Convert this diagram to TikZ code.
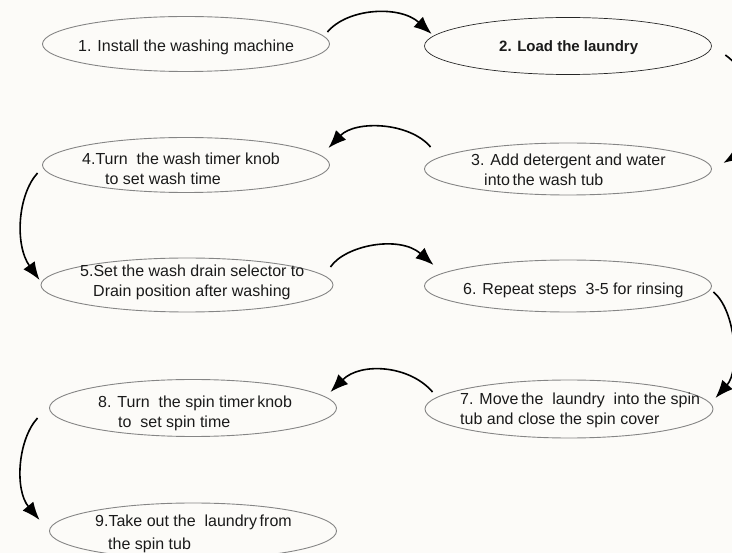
\documentclass[tikz,border=0pt]{standalone}
\usepackage{fontspec}
\setmainfont{Liberation Sans}
\usetikzlibrary{shapes.geometric,arrows.meta}
\definecolor{bgcol}{HTML}{FCFBF8}
\definecolor{edgecol}{HTML}{858585}
\definecolor{inkcol}{HTML}{1A1A1A}
\begin{document}
\begin{tikzpicture}[x=1pt,y=-1pt,
  stepell/.style={ellipse, draw=edgecol, line width=0.9pt, minimum width=287pt, minimum height=55pt, inner sep=0pt},
  steptxt/.style={anchor=base west, inner sep=0pt, align=left, text=inkcol, font=\fontsize{16}{20}\selectfont},
  flow/.style={-{Latex[length=18pt,width=14pt]}, line width=1.6pt, black}]
\useasboundingbox (0,0) rectangle (732,553);
\clip (0,0) rectangle (732,553);
\fill[bgcol] (0,0) rectangle (732,553);
% ellipses
\node[stepell] (e1) at (186,44) {};
\node[stepell, draw=black!85, line width=0.7pt, minimum height=57pt] (e2) at (568,46) {};
\node[stepell, minimum height=52pt] (e3) at (568,169) {};
\node[stepell] (e4) at (186,165) {};
\node[stepell, minimum width=292pt, minimum height=54pt] (e5) at (187,285) {};
\node[stepell, minimum height=52pt] (e6) at (568,286) {};
\node[stepell, minimum width=288pt, minimum height=58pt] (e7) at (569,409) {};
\node[stepell, minimum height=57pt] (e8) at (193,408) {};
\node[stepell, minimum height=56pt] (e9) at (193,531) {};
% texts (base anchor = baseline of the last line)
\node[steptxt] (t1) at (78,52) {1. Install the washing machine};
\node[steptxt, font=\fontsize{15}{18}\selectfont\bfseries] (t2) at (499,52) {2. Load the laundry};
\node[steptxt] (t3) at (471,186) {3. Add detergent and water\\\hspace*{13pt}into\,the wash tub};
\node[steptxt] (t4) at (82,185) {4.Turn\ \ the wash timer knob\\\hspace*{23pt}to set wash time};
\node[steptxt] (t5) at (80,297) {5.Set the wash drain selector to\\\hspace*{13pt}Drain position after washing};
\node[steptxt] (t6) at (463,295) {6. Repeat steps\ \ 3-5 for rinsing};
\node[steptxt] (t7) at (460,425) {7. Move\,the\ \ laundry\ \ into the spin\\tub and close the spin cover};
\node[steptxt] (t8) at (98,428) {8. Turn\ \ the spin timer\,knob\\\hspace*{20pt}to\ \ set spin time};
\node[steptxt] (t9) at (95,550) {9.Take out the\ \ laundry\,from\\[3pt]\hspace*{13pt}the spin tub};
% connectors
\draw[flow] ([shift={(-2.5,-12)}]e1.east) .. controls +(20,-24) and +(-32,-29) .. ([shift={(7.5,-12)}]e2.west);
\draw[flow] ([shift={(13.5,9)}]e2.east) .. controls +(35,25) and +(37,-23) .. ([shift={(11.5,-6)}]e3.east);
\draw[flow] ([shift={(6.5,-22)}]e3.west) .. controls +(-21,-25) and +(27,-28) .. ([shift={(-1.5,-17)}]e4.east);
\draw[flow] ([shift={(-4.5,8)}]e4.west) .. controls +(-20,22) and +(-25,-35) .. ([shift={(-1,-5)}]e5.west);
\draw[flow] ([shift={(-3,-18)}]e5.east) .. controls +(15,-22) and +(-34,-30) .. ([shift={(9.5,-21)}]e6.west);
\draw[flow] ([shift={(1.5,6)}]e6.east) .. controls +(22,18) and +(25,-28) .. ([shift={(2,-11)}]e7.east);
\draw[flow] ([shift={(8,-17)}]e7.west) .. controls +(-23,-27) and +(30,-30) .. ([shift={(-6.5,-16)}]e8.east);
\draw[flow] ([shift={(-11.5,10)}]e8.west) .. controls +(-20,22) and +(-25,-30) .. ([shift={(-9.5,-11)}]e9.west);
\end{tikzpicture}
\end{document}
